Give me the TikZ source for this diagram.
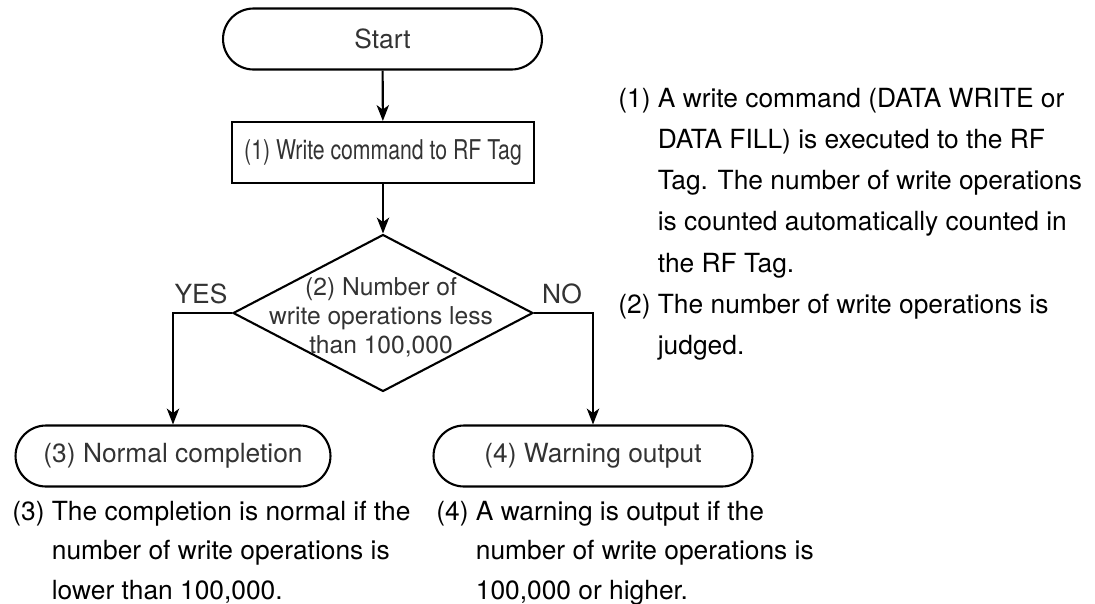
\documentclass[tikz,border=0pt]{standalone}
\usepackage{fontspec}
\setmainfont{TeX Gyre Heros}
\newfontfamily\narrowfont[FakeStretch=0.78]{TeX Gyre Heros}
\usetikzlibrary{arrows.meta,shapes.geometric,shapes.misc,positioning}
\tikzstyle{terminal} = [draw,line width=1.2pt,rounded rectangle,minimum height=1.22cm,inner sep=0pt,text=black!80,font=\fontsize{15}{18}\selectfont]
\tikzstyle{process} = [draw,line width=1.2pt,rectangle,minimum width=6.04cm,minimum height=1.22cm,inner sep=0pt,text=black!80,font=\narrowfont\fontsize{15.5}{18}\selectfont]
\tikzstyle{decision} = [draw,line width=1.2pt,diamond,minimum width=6cm,minimum height=3.14cm,inner sep=0pt]
\tikzstyle{flow} = [line width=1.2pt,-{Stealth[length=9pt,width=7pt,inset=2.5pt]}]
\tikzstyle{answer} = [inner sep=0pt,text=black!80,font=\fontsize{15}{18}\selectfont]
\tikzstyle{note} = [anchor=base west,inner sep=0pt]

\begin{document}
\begin{tikzpicture}[x=0.02cm,y=-0.02cm]
        \useasboundingbox (0,0) rectangle (1095,603);

        \node[terminal,minimum width=6.38cm] (start) at (382.5,39) {Start};
        \node[process] (write) at (383,152.5) {(1) Write command to RF Tag};
        \node[decision] (judge) at (383,313) {};
        \node[align=center,inner sep=0pt,text=black!80,font=\fontsize{14}{16.4}\selectfont] (judgetext) at (381,317)
            {(2) Number of\\write operations less\\than 100,000};
        \node[terminal,minimum width=6.3cm] (normal) at (173,456) {(3) Normal completion};
        \node[terminal,minimum width=6.38cm] (warning) at (593,456) {(4) Warning output};

        \draw[flow] (start) to (write);
        \draw[flow] (write) to (judge);
        \draw[flow] (judge.west) -| (normal.north);
        \draw[flow] (judge.east) -| (warning.north);

        \node[answer] (yes) at (201,293.5) {YES};
        \node[answer] (no) at (562,293.5) {NO};

        % explanations
        \node[note,font=\fontsize{15}{23.5}\selectfont] (note1) at (618,107) {\begin{tabular}[t]{@{}l@{ }l@{}}
            (1) & A write command (DATA WRITE or\\
                & DATA FILL) is executed to the RF\\
                & Tag. The number of write operations\\
                & is counted automatically counted in\\
                & the RF Tag.\\
            (2) & The number of write operations is\\
                & judged.
        \end{tabular}};
        \node[note,font=\fontsize{15}{22.7}\selectfont] (note3) at (12,520) {\begin{tabular}[t]{@{}l@{ }l@{}}
            (3) & The completion is normal if the\\
                & number of write operations is\\
                & lower than 100,000.
        \end{tabular}};
        \node[note,font=\fontsize{15}{22.7}\selectfont] (note4) at (436,520) {\begin{tabular}[t]{@{}l@{ }l@{}}
            (4) & A warning is output if the\\
                & number of write operations is\\
                & 100,000 or higher.
        \end{tabular}};
\end{tikzpicture}
\end{document}
